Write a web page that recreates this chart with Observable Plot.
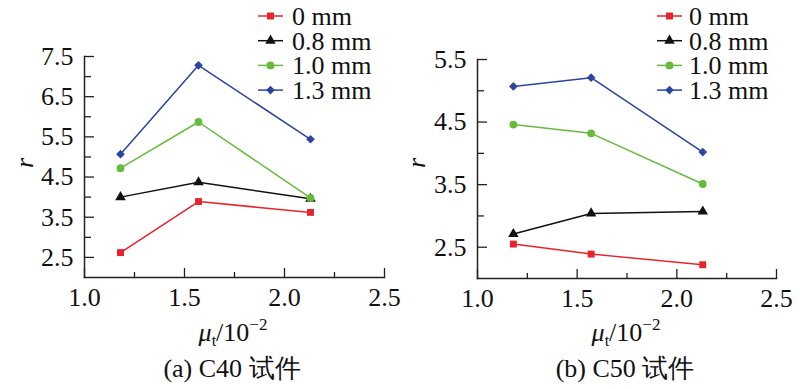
<!DOCTYPE html>
<html><head><meta charset="utf-8">
<script src="https://cdn.jsdelivr.net/npm/d3@7"></script>
<script src="https://cdn.jsdelivr.net/npm/@observablehq/plot@0.6"></script>
<style>
body{margin:0;background:#fff;}
#wrap{position:relative;width:800px;height:389px;font-family:Liberation Serif;}
#wrap svg{position:absolute;top:0;}
.cap{position:absolute;top:354px;width:300px;text-align:center;font-family:Liberation Serif;font-size:26px;line-height:30px;color:#111;white-space:nowrap;}
</style>
</head><body><div id="wrap"></div>
<script>
const xVals = [1.18, 1.57, 2.13];
const seriesNames = ["0 mm", "0.8 mm", "1.0 mm", "1.3 mm"];
const seriesColors = ["#e8232b", "#111111", "#66bb3c", "#2a45a0"];
const seriesSymbols = ["square", "triangle", "circle", "diamond2"];
// C40
const c40_0 = [2.62, 3.89, 3.62];
const c40_08 = [4.00, 4.37, 3.96];
const c40_10 = [4.72, 5.87, 3.98];
const c40_13 = [5.07, 7.28, 5.44];
// C50
const c50_0 = [2.55, 2.39, 2.22];
const c50_08 = [2.71, 3.04, 3.07];
const c50_10 = [4.46, 4.32, 3.51];
const c50_13 = [5.07, 5.21, 4.02];
const xTicks = [1.0, 1.5, 2.0, 2.5];
const xMinor = [1.25, 1.75, 2.25];
const c40Ticks = [2.5, 3.5, 4.5, 5.5, 6.5, 7.5];
const c40Minor = [3.0, 4.0, 5.0, 6.0, 7.0];
const c50Ticks = [2.5, 3.5, 4.5, 5.5];
const c50Minor = [3.0, 4.0, 5.0];
const captions = ["(a) C40 试件", "(b) C50 试件"];

const FAM = "Liberation Serif";
function table(arrs){
  const rows = [];
  arrs.forEach((arr, si) => arr.forEach((v, i) => rows.push({x: xVals[i], y: v, s: seriesNames[si]})));
  return rows;
}
const FONT = 26;
function panel(data, yDomain, yTicks, yMinor, m){
  return Plot.plot({
    width: 400, height: 389,
    marginLeft: m.l, marginRight: m.r, marginTop: m.t, marginBottom: m.b,
    style: {fontFamily: FAM, fontSize: FONT + "px", background: "transparent", overflow: "visible"},
    x: {domain: [1.0, 2.5]},
    y: {domain: yDomain},
    color: {domain: seriesNames, range: seriesColors},
    symbol: {domain: seriesNames, range: seriesSymbols},
    marks: [
      Plot.axisX(xTicks, {tickSize: 0, tickPadding: 10, tickFormat: d3.format(".1f"), label: null, fontSize: FONT, fontFamily: FAM, fill: "#111"}),
      Plot.axisX(xTicks, {tickSize: -9, text: null, label: null, strokeWidth: 1.3, stroke: "#222"}),
      Plot.axisX(xMinor, {tickSize: -5, text: null, label: null, strokeWidth: 1.3, stroke: "#222"}),
      Plot.axisY(yTicks, {tickSize: 0, tickPadding: 11, tickFormat: d3.format(".1f"), label: null, fontSize: FONT, fontFamily: FAM, fill: "#111"}),
      Plot.axisY(yTicks, {tickSize: -10, text: null, label: null, strokeWidth: 1.3, stroke: "#222"}),
      Plot.axisY(yMinor, {tickSize: -7, text: null, label: null, strokeWidth: 1.3, stroke: "#222"}),
      Plot.frame({anchor: "left", stroke: "#222", strokeWidth: 1.5}),
      Plot.frame({anchor: "bottom", stroke: "#222", strokeWidth: 1.5}),
      Plot.line(data, {x: "x", y: "y", z: "s", stroke: "s", strokeWidth: 1.5}),
      Plot.dot(data, {x: "x", y: "y", symbol: "s", fill: "s", r: 3.9, stroke: null})
    ]
  });
}
const wrap = document.getElementById("wrap");
const p1 = panel(table([c40_0, c40_08, c40_10, c40_13]), [2.0, 7.5], c40Ticks, c40Minor, {l: 84, r: 16, t: 56, b: 112});
const p2 = panel(table([c50_0, c50_08, c50_10, c50_13]), [2.0, 5.5], c50Ticks, c50Minor, {l: 77, r: 24, t: 59, b: 111});
p1.style.left = "0px"; p2.style.left = "400px";
wrap.appendChild(p1); wrap.appendChild(p2);

// overlay: legends, axis labels
const ov = d3.select(wrap).append("svg").attr("width", 800).attr("height", 389).style("left", "0px")
  .attr("fill", "#111");
const symMap = {square: d3.symbolSquare, triangle: d3.symbolTriangle, circle: d3.symbolCircle, diamond2: d3.symbolDiamond2};
[[258, 292], [657, 689]].forEach(([lx, tx]) => {
  seriesNames.forEach((n, i) => {
    const y = 16 + i * 24.7;
    ov.append("line").attr("x1", lx).attr("x2", lx + 25).attr("y1", y).attr("y2", y)
      .attr("stroke", seriesColors[i]).attr("stroke-width", 1.5);
    ov.append("path").attr("d", d3.symbol(symMap[seriesSymbols[i]], 48)()).attr("transform", `translate(${lx + 12.5},${y})`)
      .attr("fill", seriesColors[i]);
    ov.append("text").attr("x", tx).attr("y", y).attr("dy", "0.34em").attr("font-family", FAM).attr("font-size", FONT).text(n);
  });
});
[[25, 233, 232, 0], [417, 626, 625, 1]].forEach(([rx, lx, cx, k]) => {
  ov.append("text").attr("transform", `translate(${rx},163) rotate(-90)`).attr("text-anchor", "middle")
    .attr("dy", "0.3em").attr("font-family", FAM).attr("font-size", FONT).attr("font-style", "italic").text("r");
  const t = ov.append("text").attr("x", lx).attr("y", 341).attr("text-anchor", "middle").attr("font-family", FAM).attr("font-size", FONT);
  t.append("tspan").attr("font-style", "italic").text("μ");
  t.append("tspan").attr("dy", 5).attr("font-size", 16).text("t");
  t.append("tspan").attr("dy", -5).text("/10");
  t.append("tspan").attr("dy", -11).attr("font-size", 17).text("−2");
  const c = document.createElement("div");
  c.className = "cap"; c.style.left = (cx - 150) + "px"; c.textContent = captions[k];
  wrap.appendChild(c);
});
d3.selectAll("#wrap svg text").style("font-family", FAM);
</script></body></html>
